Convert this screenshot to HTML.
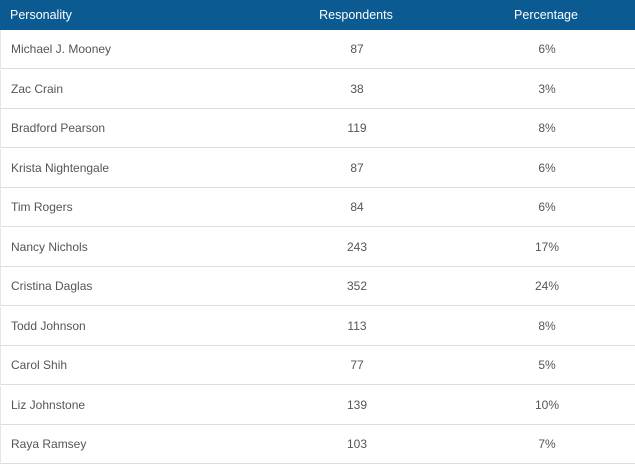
<!DOCTYPE html>
<html><head><meta charset="utf-8"><style>
body{margin:0;width:635px;height:464px;overflow:hidden;background:#fff;font-family:"Liberation Sans",sans-serif;}
#hdr{position:absolute;left:0;top:0;width:635px;height:30px;background:#0b5a92;color:#fff;font-size:12.5px;}
.c{position:absolute;line-height:30px;}
.row{position:absolute;left:0;width:635px;height:39px;border-bottom:1px solid #dedede;color:#555;font-size:12px;border-left:1px solid #e6e6e6;box-sizing:border-box;}
.row span{position:absolute;line-height:38px;}
.n{left:10px}.r{left:306px;width:100px;text-align:center}.p{left:496px;width:100px;text-align:center}
</style></head><body>
<div id="hdr">
<span class="c n">Personality</span>
<span class="c r">Respondents</span>
<span class="c p">Percentage</span>
</div>
<div id="rows"></div>
<script>
const names=["Michael J. Mooney","Zac Crain","Bradford Pearson","Krista Nightengale","Tim Rogers","Nancy Nichols","Cristina Daglas","Todd Johnson","Carol Shih","Liz Johnstone","Raya Ramsey"];
const respondents=[87,38,119,87,84,243,352,113,77,139,103];
const percentages=["6%","3%","8%","6%","6%","17%","24%","8%","5%","10%","7%"];
const c=document.getElementById('rows');
names.forEach((n,i)=>{
 const d=document.createElement('div');
 d.className='row';
 
 
 d.style.top=(30+i*39.5)+'px';
 const a=document.createElement('span');a.className='n';a.textContent=n;
 
 
 const b=document.createElement('span');b.className='r';b.textContent=respondents[i];
 
 
 const p=document.createElement('span');p.className='p';p.textContent=percentages[i];
 
 
 d.append(a,b,p);c.appendChild(d);
});
</script>
</body></html>
